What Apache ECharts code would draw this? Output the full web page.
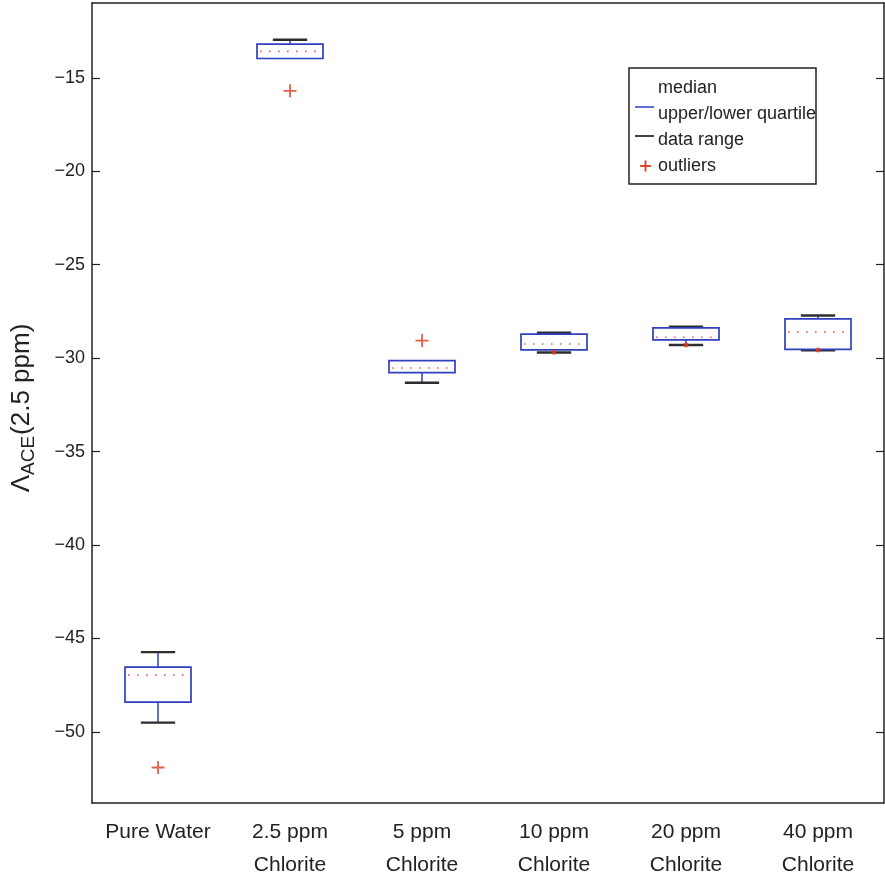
<!DOCTYPE html>
<html>
<head>
<meta charset="utf-8">
<script src="https://cdn.jsdelivr.net/npm/echarts@6/dist/echarts.min.js"></script>
<style>
  html, body { margin: 0; padding: 0; background: #fff; }
  #chart { width: 885px; height: 886px; }
</style>
</head>
<body>
<div id="chart"></div>
<script>
// Box-plot summary of Λ_ACE(2.5 ppm) per sample
const categories   = ['Pure Water', '2.5 ppm\nChlorite', '5 ppm\nChlorite', '10 ppm\nChlorite', '20 ppm\nChlorite', '40 ppm\nChlorite'];
const whiskerLow   = [-49.50, -13.97, -31.32, -29.70, -29.30, -29.58];
const quartileLow  = [-48.40, -13.97, -30.78, -29.56, -29.02, -29.53];
const medians      = [-46.96, -13.59, -30.53, -29.24, -28.88, -28.61];
const quartileHigh = [-46.53, -13.20, -30.13, -28.72, -28.38, -27.90];
const whiskerHigh  = [-45.73, -12.97, -30.13, -28.64, -28.32, -27.72];
// outliers as [category index, value]
const outliers     = [[0, -51.90], [1, -15.70], [2, -29.06]];
const edgeOutliers = [[3, -29.68], [4, -29.30], [5, -29.57]];
const yTicks       = [-50, -45, -40, -35, -30, -25, -20, -15];

const FONT = '"Liberation Sans", Arial, Helvetica, sans-serif';
const BLUE = '#2f3fbf';
const DARK = '#2a2e2e';
const RED  = '#e0391c';
const INK  = '#222';

const boxData = categories.map((c, i) => [i, whiskerLow[i], quartileLow[i], medians[i], quartileHigh[i], whiskerHigh[i]]);

function renderBox(params, api) {
  const i = api.value(0);
  const vLo = api.value(1), vQ1 = api.value(2), vQ3 = api.value(4), vHi = api.value(5);
  const lo = api.coord([i, vLo]);
  const q1 = api.coord([i, vQ1]);
  const md = api.coord([i, api.value(3)]);
  const q3 = api.coord([i, vQ3]);
  const hi = api.coord([i, vHi]);
  const band = api.size([1, 0])[0];
  const bw = band * 0.5;
  const cw = band * 0.26;
  const x = lo[0];
  const children = [];
  // whiskers (a whisker that coincides with the box edge stays hidden under it)
  if (vHi !== vQ3) {
    children.push({ type: 'line', shape: { x1: x, y1: hi[1], x2: x, y2: q3[1] }, style: { stroke: BLUE, lineWidth: 1.5 } });
    children.push({ type: 'line', shape: { x1: x - cw / 2, y1: hi[1], x2: x + cw / 2, y2: hi[1] }, style: { stroke: DARK, lineWidth: 2.4 } });
  }
  if (vLo !== vQ1) {
    children.push({ type: 'line', shape: { x1: x, y1: q1[1], x2: x, y2: lo[1] }, style: { stroke: BLUE, lineWidth: 1.5 } });
    children.push({ type: 'line', shape: { x1: x - cw / 2, y1: lo[1], x2: x + cw / 2, y2: lo[1] }, style: { stroke: DARK, lineWidth: 2.4 } });
  }
  // quartile box
  children.push({ type: 'rect', shape: { x: x - bw / 2, y: q3[1], width: bw, height: q1[1] - q3[1] }, style: { fill: 'none', stroke: BLUE, lineWidth: 1.7 } });
  // median
  children.push({ type: 'line', shape: { x1: x - bw / 2 + 3, y1: md[1], x2: x + bw / 2, y2: md[1] }, style: { stroke: RED, lineWidth: 1.6, lineDash: [1.6, 7.4], opacity: 0.75 } });
  return { type: 'group', children };
}

const chart = echarts.init(document.getElementById('chart'), null, { renderer: 'canvas' });

const minusFmt = v => (v < 0 ? '\u2212' + Math.abs(v) : String(v));

chart.setOption({
  animation: false,
  backgroundColor: '#fff',
  grid: { left: 92, right: 1, top: 3, bottom: 83 },
  xAxis: [
    {
      type: 'category',
      data: categories,
      position: 'bottom',
      boundaryGap: true,
      axisLine: { lineStyle: { color: INK, width: 1.5 } },
      axisTick: { inside: true, length: 8, alignWithLabel: true, lineStyle: { color: INK, width: 1.2 } },
      axisLabel: { color: INK, fontFamily: FONT, fontSize: 21, lineHeight: 33, margin: 13, interval: 0 },
      splitLine: { show: false }
    },
    {
      type: 'category',
      data: categories,
      position: 'top',
      boundaryGap: true,
      axisLine: { lineStyle: { color: INK, width: 1.5 } },
      axisTick: { inside: true, length: 8, alignWithLabel: true, lineStyle: { color: INK, width: 1.2 } },
      axisLabel: { show: false },
      splitLine: { show: false }
    }
  ],
  yAxis: [
    {
      type: 'value',
      min: -53.8,
      max: -11,
      position: 'left',
      axisLine: { show: true, lineStyle: { color: INK, width: 1.5 } },
      axisTick: { show: true, inside: true, length: 8, customValues: yTicks, lineStyle: { color: INK, width: 1.2 } },
      axisLabel: { customValues: yTicks, color: INK, fontFamily: FONT, fontSize: 18, margin: 7, formatter: minusFmt },
      splitLine: { show: false }
    },
    {
      type: 'value',
      min: -53.8,
      max: -11,
      position: 'right',
      axisLine: { show: true, lineStyle: { color: INK, width: 1.5 } },
      axisTick: { show: true, inside: true, length: 8, customValues: yTicks, lineStyle: { color: INK, width: 1.2 } },
      axisLabel: { show: false },
      splitLine: { show: false }
    }
  ],
  series: [
    {
      type: 'custom',
      name: 'box',
      renderItem: renderBox,
      data: boxData,
      encode: { x: 0, y: [1, 2, 3, 4, 5] },
      z: 2
    },
    {
      type: 'scatter',
      name: 'outliers',
      data: outliers,
      symbol: 'path://M8.6,0h2.8v8.6h8.6v2.8h-8.6v8.6h-2.8v-8.6h-8.6v-2.8h8.6z',
      symbolSize: 13,
      itemStyle: { color: RED },
      z: 3
    },
    {
      type: 'scatter',
      name: 'edge outliers',
      data: edgeOutliers,
      symbol: 'circle',
      symbolSize: 5,
      itemStyle: { color: RED },
      z: 3
    }
  ],
  graphic: [
    {
      type: 'text',
      x: 22,
      y: 408,
      rotation: Math.PI / 2,
      style: {
        text: '{l|\u039B}{s|ACE}{l|(2.5 ppm)}',
        align: 'center',
        verticalAlign: 'middle',
        fill: INK,
        rich: {
          l: { fontFamily: FONT, fontSize: 26, lineHeight: 32, fill: INK, verticalAlign: 'middle' },
          s: { fontFamily: FONT, fontSize: 19, lineHeight: 32, fill: INK, verticalAlign: 'bottom', padding: [13, 1, 0, 0] }
        }
      }
    },
    {
      type: 'group',
      z: 100,
      children: [
        { type: 'rect', shape: { x: 629, y: 68, width: 187, height: 116 }, style: { fill: '#fff', stroke: INK, lineWidth: 1.5 } },
        { type: 'text', x: 658, y: 88, style: { text: 'median', fontFamily: FONT, fontSize: 18, fill: INK, verticalAlign: 'middle' } },
        { type: 'text', x: 658, y: 114, style: { text: 'upper/lower quartile', fontFamily: FONT, fontSize: 18, fill: INK, verticalAlign: 'middle' } },
        { type: 'text', x: 658, y: 140, style: { text: 'data range', fontFamily: FONT, fontSize: 18, fill: INK, verticalAlign: 'middle' } },
        { type: 'text', x: 658, y: 166, style: { text: 'outliers', fontFamily: FONT, fontSize: 18, fill: INK, verticalAlign: 'middle' } },
        { type: 'line', shape: { x1: 635, y1: 107, x2: 654, y2: 107 }, style: { stroke: BLUE, lineWidth: 1.5 } },
        { type: 'line', shape: { x1: 635, y1: 136, x2: 654, y2: 136 }, style: { stroke: DARK, lineWidth: 1.8 } },
        { type: 'line', shape: { x1: 640, y1: 166, x2: 651, y2: 166 }, style: { stroke: RED, lineWidth: 1.8 } },
        { type: 'line', shape: { x1: 645.5, y1: 160.5, x2: 645.5, y2: 171.5 }, style: { stroke: RED, lineWidth: 1.8 } }
      ]
    }
  ]
});
</script>
</body>
</html>
